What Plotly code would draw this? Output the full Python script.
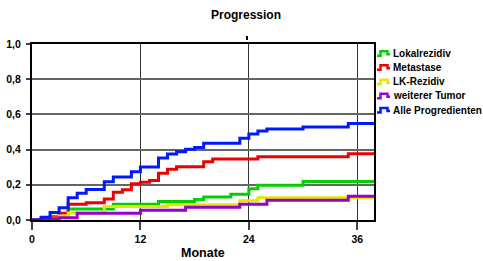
import plotly.graph_objects as go

# ---- data (months, cumulative incidence) ----
lokal_t = [0, 2, 3, 4, 9, 14, 18, 19, 22, 24, 25, 30, 38]
lokal_v = [0, 0.01, 0.02, 0.063, 0.09, 0.105, 0.117, 0.131, 0.147, 0.177, 0.197, 0.219, 0.219]

meta_t = [0, 2, 3, 4, 6, 8, 9, 10, 11, 12, 13, 14, 15, 16, 19, 20, 25, 35, 38]
meta_v = [0, 0.019, 0.038, 0.09, 0.098, 0.12, 0.157, 0.172, 0.206, 0.215, 0.225, 0.265, 0.288, 0.303, 0.331, 0.347, 0.36, 0.377, 0.377]

lk_t = [0, 2, 3, 4, 8, 15, 23, 25, 38]
lk_v = [0, 0.01, 0.023, 0.04, 0.077, 0.087, 0.11, 0.126, 0.126]

tumor_t = [0, 1, 2, 3, 5, 12, 17, 23, 26, 35, 38]
tumor_v = [0, 0.003, 0.007, 0.013, 0.038, 0.055, 0.073, 0.09, 0.112, 0.135, 0.135]

alle_t = [0, 1, 2, 3, 4, 5, 6, 8, 9, 11, 12, 14, 15, 16, 17, 18, 19, 23, 24, 25, 26, 30, 35, 38]
alle_v = [0, 0.015, 0.042, 0.07, 0.127, 0.152, 0.174, 0.218, 0.244, 0.274, 0.301, 0.352, 0.375, 0.388,
          0.402, 0.412, 0.436, 0.464, 0.489, 0.506, 0.517, 0.528, 0.549, 0.549]

series_names = ["Lokalrezidiv", "Metastase", "LK-Rezidiv", "weiterer Tumor", "Alle Progredienten"]
series_colors = ["#00d000", "#ee0000", "#e6e600", "#9900cc", "#0019ff"]

x_ticks = [0, 12, 24, 36]
y_ticks = [0, 0.2, 0.4, 0.6, 0.8, 1.0]
y_ticklabels = ["0,0", "0,2", "0,4", "0,6", "0,8", "1,0"]

W, H = 483, 261
ML, MR, MT, MB = 32, 109, 44, 41
PW, PH = W - ML - MR, H - MT - MB

ARIAL = "Liberation Sans, Arial, sans-serif"

def px(x):
    return (x - ML) / PW

def py(y):
    return (H - MB - y) / PH

fig = go.Figure()
data = [(lokal_t, lokal_v), (meta_t, meta_v), (lk_t, lk_v), (tumor_t, tumor_v), (alle_t, alle_v)]
for (t, v), name, col in zip(data, series_names, series_colors):
    fig.add_trace(go.Scatter(x=t, y=v, mode="lines", line=dict(shape="hv", color=col, width=3),
                             name=name, showlegend=False, hoverinfo="skip"))

shapes = []
annotations = []
# custom legend
leg_y = [53.3, 67.3, 81.7, 95.7, 110.0]
for name, col, yc in zip(series_names, series_colors, leg_y):
    pts = [(377, yc + 2.5), (380.5, yc + 2.5), (380.5, yc - 2), (387.5, yc - 2), (387.5, yc + 1), (390, yc + 1)]
    path = "M" + " L".join(f"{px(a):.5f},{py(b):.5f}" for a, b in pts)
    shapes.append(dict(type="path", xref="paper", yref="paper", path=path,
                       line=dict(color=col, width=2.5)))
    annotations.append(dict(text=f"<b>{name}</b>", xref="paper", yref="paper", x=px(391), y=py(yc),
                            xanchor="left", yanchor="middle", showarrow=False,
                            font=dict(family=ARIAL, size=10, color="black")))

# stray mark above plot
shapes.append(dict(type="line", xref="paper", yref="paper", x0=px(247), x1=px(247), y0=py(36), y1=py(40),
                   line=dict(color="black", width=2)))

annotations.append(dict(text="<b>Monate</b>", xref="paper", yref="paper", x=0.5, y=py(253),
                        xanchor="center", yanchor="middle", showarrow=False,
                        font=dict(family=ARIAL, size=12.5, color="black")))

fig.update_layout(
    width=W, height=H,
    margin=dict(l=ML, r=MR, t=MT, b=MB, pad=0, autoexpand=False),
    paper_bgcolor="white", plot_bgcolor="white",
    title=dict(text="<b>Progression</b>", x=246 / W, xanchor="center", y=1 - 14.5 / H, yanchor="middle",
               font=dict(family=ARIAL, size=12, color="black")),
    shapes=shapes, annotations=annotations,
    showlegend=False,
)
fig.update_xaxes(range=[0, 37.85], tickvals=x_ticks, ticktext=[f"<b>{v}</b>" for v in x_ticks],
                 ticks="outside", ticklen=8, tickwidth=1.5, tickcolor="#444", automargin=False,
                 showline=True, mirror=True, linecolor="black", linewidth=2,
                 showgrid=True, gridcolor="#333", gridwidth=1.2, zeroline=False,
                 tickfont=dict(family=ARIAL, size=10.5, color="black"))
fig.update_yaxes(range=[0, 1.0], tickvals=y_ticks, ticktext=[f"<b>{s}</b>" for s in y_ticklabels],
                 ticks="outside", ticklen=4, tickwidth=1.5, tickcolor="#444", automargin=False,
                 showline=True, mirror=True, linecolor="black", linewidth=2,
                 showgrid=True, gridcolor="#666", gridwidth=1.5, zeroline=False,
                 tickfont=dict(family=ARIAL, size=10.5, color="black"), ticklabelstandoff=3)

fig.write_html("out.html", config={"displayModeBar": False},
               post_script="document.body.style.margin='0';document.body.style.overflow='hidden';")
